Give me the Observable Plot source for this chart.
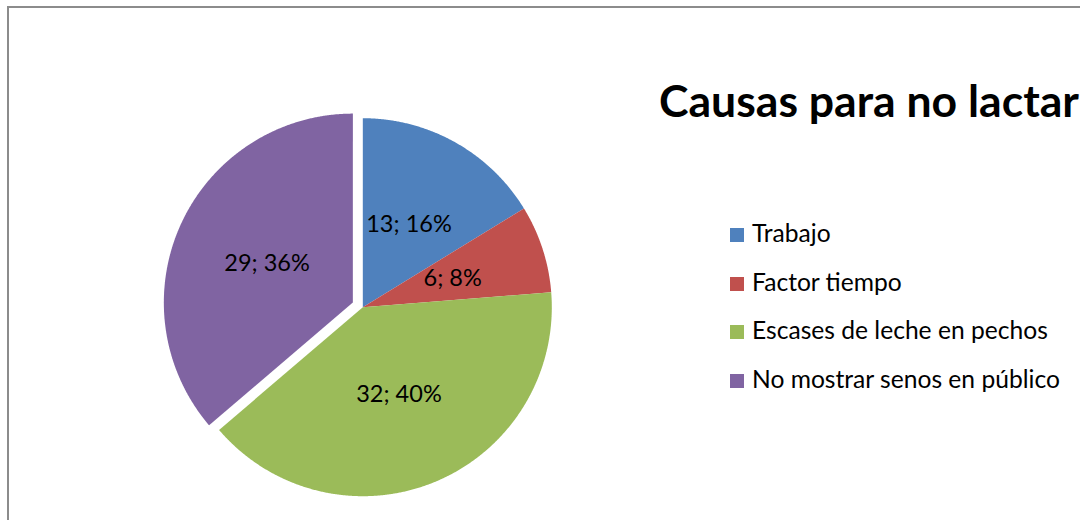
<!DOCTYPE html>
<html><head><meta charset="utf-8">
<script src="https://cdn.jsdelivr.net/npm/d3@7"></script>
<script src="https://cdn.jsdelivr.net/npm/@observablehq/plot@0.6"></script>
<style>
html,body{margin:0;padding:0;background:#fff;}
#wrap{position:relative;width:1080px;height:520px;overflow:hidden;font-family:Lato,"Open Sans",sans-serif;color:#000;}
#frame{position:absolute;left:7px;top:6px;width:1200px;height:700px;border-top:2px solid #8c8c8c;border-left:2px solid #8c8c8c;box-sizing:border-box;}
#chart{position:absolute;left:0;top:0;}
.abs{position:absolute;white-space:nowrap;line-height:1;}
.sw{position:absolute;width:14px;height:14px;}
</style>
</head><body>
<div id="wrap"><div id="frame"></div><div id="chart"></div></div>
<script>
const categories = ["Trabajo", "Factor tiempo", "Escases de leche en pechos", "No mostrar senos en público"];
const counts = [13, 6, 32, 29];
const colors = ["#4F81BD", "#C0504D", "#9BBB59", "#8064A2"];
const explodedIndex = 3;
const title = "Causas para no lactar";

const total = d3.sum(counts);
const pct = counts.map(v => Math.round(v / total * 100));
const arcs = d3.pie().sort(null).startAngle(0).endAngle(2 * Math.PI)(counts);

const explode = 0.058;   // fraction of radius
const labelR = 0.5;
const poly = [];
const labels = [];
arcs.forEach((a, i) => {
  const mid = (a.startAngle + a.endAngle) / 2;
  const off = i === explodedIndex ? explode : 0;
  const ox = off * Math.sin(mid), oy = off * Math.cos(mid);
  poly.push({cat: categories[i], x: ox, y: oy});
  const n = Math.max(2, Math.ceil((a.endAngle - a.startAngle) / 0.005));
  for (let k = 0; k <= n; k++) {
    const t = a.startAngle + (a.endAngle - a.startAngle) * k / n;
    poly.push({cat: categories[i], x: ox + Math.sin(t), y: oy + Math.cos(t)});
  }
  labels.push({x: ox + labelR * Math.sin(mid), y: oy + labelR * Math.cos(mid), text: `${counts[i]}; ${pct[i]}%`});
});

// pie center at (362.3, 306.7) px, radius 189 px
const R = 189, cx = 362.3, cy = 306.7, W = 1080, H = 520;
const chart = Plot.plot({
  width: W, height: H, margin: 0,
  style: {background: "transparent"},
  x: {domain: [-cx / R, (W - cx) / R], axis: null},
  y: {domain: [(cy - H) / R, cy / R], axis: null},
  color: {domain: categories, range: colors},
  marks: [
    Plot.line(poly, {x: "x", y: "y", z: "cat", fill: "cat", stroke: null, curve: "linear-closed"}),
    Plot.text(labels, {x: "x", y: "y", text: "text", fontSize: 23.5, fontFamily: "Lato", fill: "#000"})
  ]
});
document.getElementById("chart").appendChild(chart);

const wrap = d3.select("#wrap");
function fit(sel, target) {
  const node = sel.node();
  const w = node.getBoundingClientRect().width;
  const fs = parseFloat(sel.style("font-size"));
  sel.style("font-size", (fs * target / w) + "px");
  return fs * target / w;
}
const t = wrap.append("div").attr("class", "abs").text(title)
  .style("left", "659px").style("font-weight", "700").style("font-size", "40px");
const tfs = fit(t, 420);
t.style("top", (117.5 - 0.887 * tfs) + "px");

const longest = wrap.append("div").attr("class", "abs").style("font-size", "20px").style("visibility", "hidden").text(categories[3]);
const lfs = fit(longest, 308);
longest.remove();
const baselines = [242.8, 291.5, 340.2, 388.9];
categories.forEach((c, i) => {
  wrap.append("div").attr("class", "sw").style("background", colors[i])
    .style("left", "730px").style("top", (baselines[i] - 15) + "px");
  wrap.append("div").attr("class", "abs").text(c)
    .style("left", "752px").style("font-size", lfs + "px")
    .style("top", (baselines[i] - 0.887 * lfs) + "px");
});
</script>
</body></html>
